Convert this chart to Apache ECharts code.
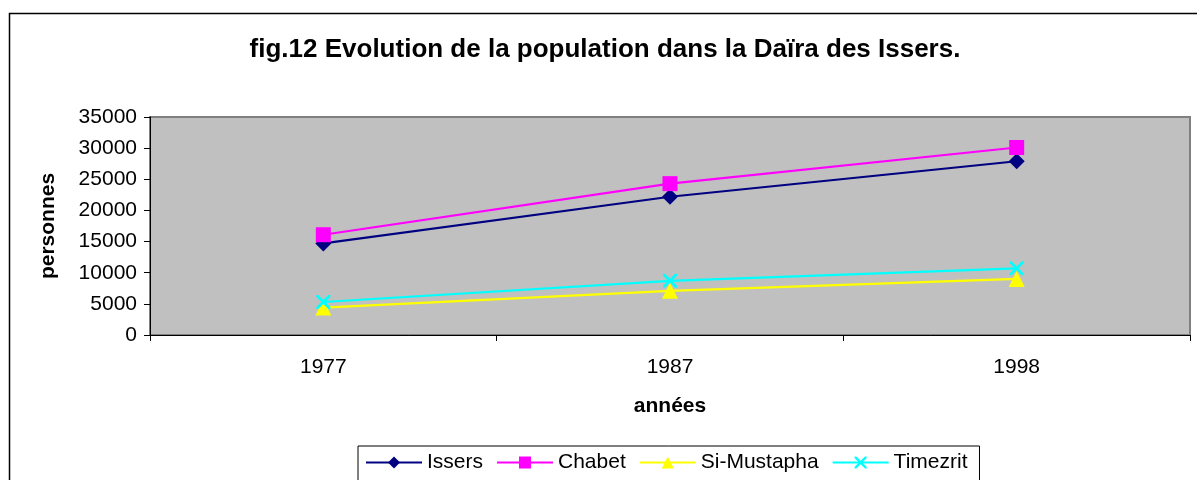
<!DOCTYPE html>
<html>
<head>
<meta charset="utf-8">
<script src="https://cdn.jsdelivr.net/npm/echarts@6/dist/echarts.min.js"></script>
<style>
  html, body { margin: 0; padding: 0; background: #fff; }
  #chart { width: 1197px; height: 480px; }
</style>
</head>
<body>
<div id="chart"></div>
<script>
var years = ["1977", "1987", "1998"];
var issers = [14700, 22200, 27900];
var chabet = [16100, 24300, 30100];
var siMustapha = [4400, 7100, 9000];
var timezrit = [5300, 8700, 10700];

var xMark = "path://M0,0 L1.4,0 L5,3.6 L8.6,0 L10,0 L10,1.4 L6.4,5 L10,8.6 L10,10 L8.6,10 L5,6.4 L1.4,10 L0,10 L0,8.6 L3.6,5 L0,1.4 Z";

var font = "Liberation Sans, Arial, sans-serif";
var myChart = echarts.init(document.getElementById("chart"));

function line(name, data, color, symbol, size) {
  return {
    name: name,
    type: "line",
    data: data,
    symbol: symbol,
    symbolSize: size,
    showSymbol: true,
    lineStyle: { color: color, width: 2.2 },
    itemStyle: { color: color },
    emphasis: { disabled: true },
    z: 3
  };
}

var option = {
  backgroundColor: "#fff",
  animation: false,
  textStyle: { fontFamily: font },
  title: {
    text: "fig.12 Evolution de la population dans la Daïra des Issers.",
    left: 600,
    top: 32,
    textAlign: "center",
    textStyle: { fontFamily: font, fontSize: 26, fontWeight: "bold", color: "#000" }
  },
  graphic: [
    {
      type: "rect",
      shape: { x: 9.5, y: 13.5, width: 1300, height: 600 },
      style: { fill: "none", stroke: "#000", lineWidth: 1.5 },
      silent: true
    }
  ],
  legend: {
    left: 358,
    top: 446,
    padding: [6, 12, 8, 7],
    borderColor: "#000",
    borderWidth: 1,
    itemWidth: 56,
    itemHeight: 15,
    itemGap: 13,
    textStyle: { fontFamily: font, fontSize: 21, color: "#000" },
    data: ["Issers", "Chabet", "Si-Mustapha", "Timezrit"]
  },
  grid: {
    left: 150,
    right: 7,
    top: 117,
    bottom: 145,
    show: true,
    backgroundColor: "#c0c0c0",
    borderColor: "#808080",
    borderWidth: 2
  },
  xAxis: {
    type: "category",
    data: years,
    boundaryGap: true,
    name: "années",
    nameLocation: "middle",
    nameGap: 61,
    nameTextStyle: { fontFamily: font, fontSize: 21, fontWeight: "bold", color: "#000" },
    axisLine: { lineStyle: { color: "#000", width: 1 } },
    axisTick: { show: true, length: 6, alignWithLabel: false, lineStyle: { color: "#000" } },
    axisLabel: { fontFamily: font, fontSize: 21, color: "#000", margin: 22 },
    splitLine: { show: false }
  },
  yAxis: {
    type: "value",
    min: 0,
    max: 35000,
    interval: 5000,
    name: "personnes",
    nameLocation: "middle",
    nameGap: 91,
    nameTextStyle: { fontFamily: font, fontSize: 21, fontWeight: "bold", color: "#000" },
    axisLine: { show: true, lineStyle: { color: "#000", width: 1 } },
    axisTick: { show: true, length: 6, lineStyle: { color: "#000" } },
    axisLabel: {
      fontFamily: font, fontSize: 21, color: "#000", margin: 13,
      formatter: function (v) { return String(v); }
    },
    splitLine: { show: false }
  },
  series: [
    line("Issers", issers, "#000080", "diamond", 16),
    line("Chabet", chabet, "#ff00ff", "rect", 15),
    line("Si-Mustapha", siMustapha, "#ffff00", "triangle", 16),
    line("Timezrit", timezrit, "#00ffff", xMark, 14)
  ]
};
myChart.setOption(option);
</script>
</body>
</html>
